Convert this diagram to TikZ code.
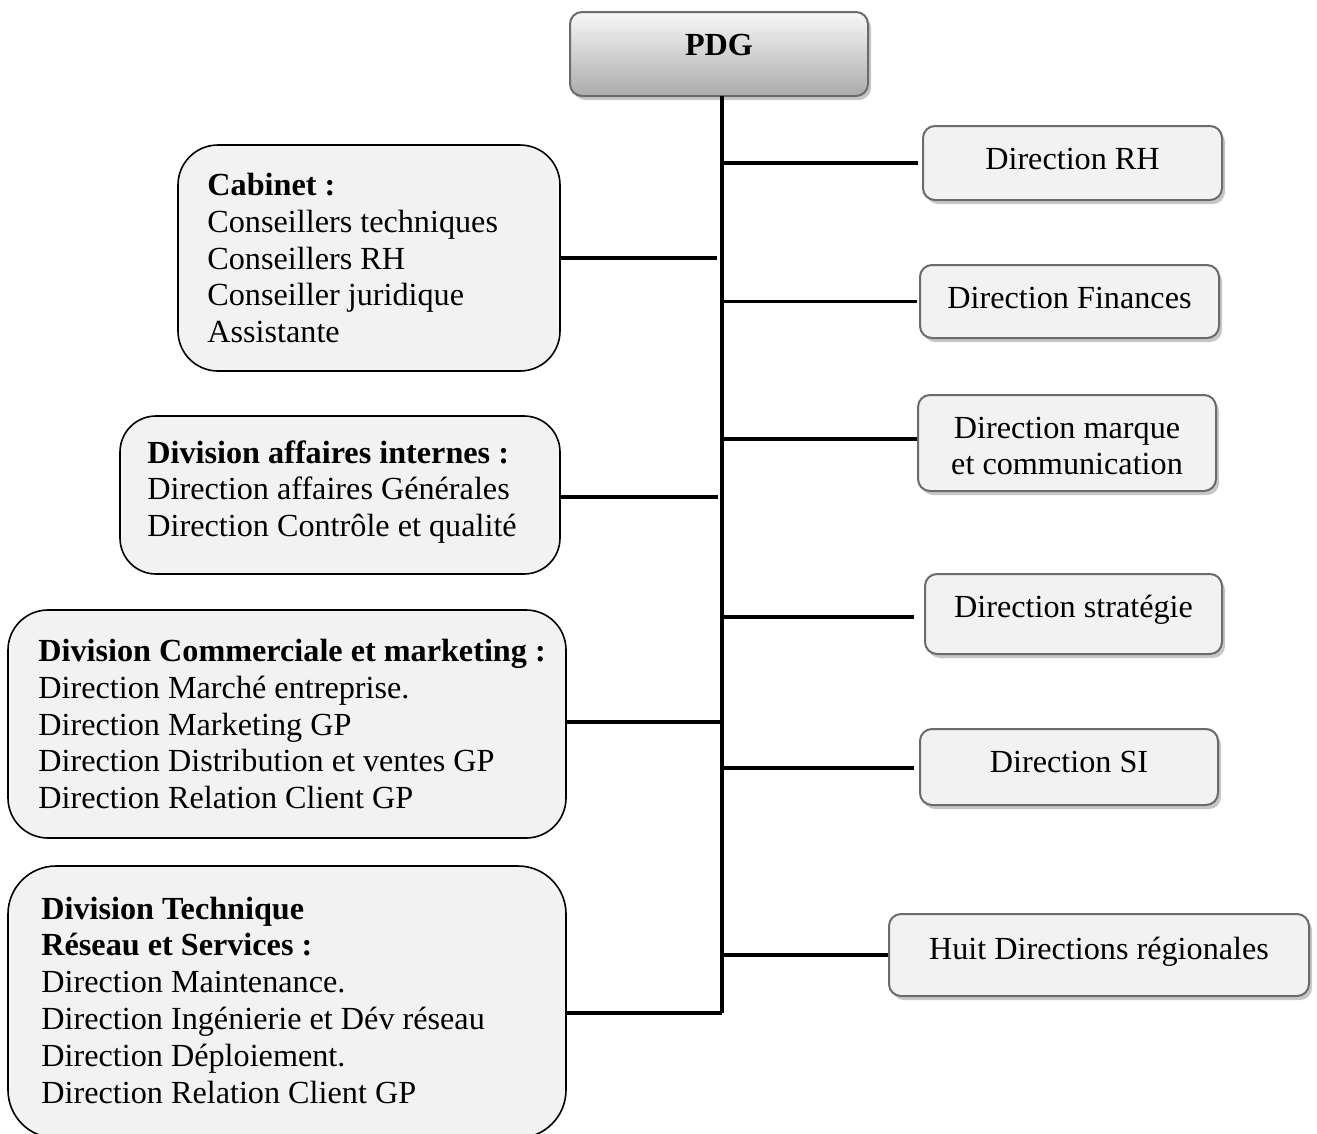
\documentclass[tikz,border=0pt]{standalone}
\usepackage{fontspec}
\setmainfont{Liberation Serif}
\usetikzlibrary{shadows}
\begin{document}
\begin{tikzpicture}[x=1pt,y=-1pt,
  every node/.style={font=\fontsize{32.2}{36.8}\selectfont},
  boxshadow/.style={drop shadow={shadow xshift=3, shadow yshift=4, fill=black!40, opacity=0.55}},
  unitbox/.style={draw=black!58, line width=2, fill=black!5, rounded corners=12,
    boxshadow, inner sep=0},
  unittext/.style={align=center, inner sep=0},
  divbox/.style={draw=black, line width=1.6, fill=black!5, inner sep=0},
  divtext/.style={anchor=west, align=left, inner sep=0},
  link/.style={line width=3.4, black},
  trunkline/.style={line width=4, black}]
\useasboundingbox (0,0) rectangle (1317,1133);
\clip (0,0) rectangle (1317,1133);

% head of the organisation
\node[draw=black!58, line width=2, rounded corners=12,
  top color=black!3, bottom color=black!33, boxshadow,
  minimum width=298, minimum height=84, inner sep=0]
  (pdg) at (719,54) {};
\node[inner sep=0] (pdgt) at (719,45) {\textbf{PDG}};

% trunk
\coordinate (top) at (722,96);
\coordinate (bot) at (722,1013);
\draw[trunkline] (top) -- (bot);

% directions attached on the right
\node[unitbox, minimum width=299, minimum height=74] (rh) at (1072.5,163) {};
\node[unittext] (rht) at ([yshift=4]rh.center) {Direction RH};
\node[unitbox, minimum width=299, minimum height=73] (fin) at (1069.5,301.5) {};
\node[unittext] (fint) at ([yshift=4]fin.center) {Direction Finances};
\node[unitbox, minimum width=298, minimum height=96] (mkt) at (1067,443) {};
\node[unittext] (mktt) at ([yshift=-3]mkt.center) {Direction marque\\[-1pt]et communication};
\node[unitbox, minimum width=297, minimum height=80] (strat) at (1073.5,614) {};
\node[unittext] (stratt) at ([yshift=4]strat.center) {Direction stratégie};
\node[unitbox, minimum width=298, minimum height=76] (si) at (1069,767) {};
\node[unittext] (sit) at ([yshift=5]si.center) {Direction SI};
\node[unitbox, minimum width=420, minimum height=82] (reg) at (1099,955) {};
\node[unittext] (regt) at ([yshift=3]reg.center) {Huit Directions régionales};

% divisions attached on the left
\node[divbox, rounded corners=40, minimum width=382, minimum height=226] (cab) at (369,258) {};
\node[divtext] (cabt) at ([xshift=30]cab.west)
  {\textbf{Cabinet :}\\Conseillers techniques\\Conseillers RH\\Conseiller juridique\\Assistante};

\node[divbox, rounded corners=36, minimum width=440, minimum height=158] (dai) at (340,495) {};
\node[divtext] (dait) at ([xshift=28,yshift=3]dai.west)
  {\textbf{Division affaires internes :}\\Direction affaires Générales\\Direction Contrôle et qualité};

\node[divbox, rounded corners=40, minimum width=558, minimum height=228] (dcm) at (287,724) {};
\node[divtext] (dcmt) at ([xshift=31]dcm.west)
  {\textbf{Division Commerciale et marketing :}\\Direction Marché entreprise.\\Direction Marketing GP\\Direction Distribution et ventes GP\\Direction Relation Client GP};

\node[divbox, rounded corners=48, minimum width=558, minimum height=272] (dtr) at (287,1002) {};
\node[divtext] (dtrt) at ([xshift=34,yshift=2]dtr.west)
  {\textbf{Division Technique}\\\textbf{Réseau et Services :}\\Direction Maintenance.\\Direction Ingénierie et Dév réseau\\Direction Déploiement.\\Direction Relation Client GP};

% links to the trunk
\draw[link] (rh.west -| top) -- ([xshift=-4]rh.west);
\draw[link] (fin.west -| top) -- ([xshift=-2]fin.west);
\draw[link] ([yshift=4]mkt.west -| top) -- ([yshift=4]mkt.west);
\draw[link] ([yshift=-3]strat.west -| top) -- ([xshift=-10,yshift=-3]strat.west);
\draw[link] ([yshift=-1]si.west -| top) -- ([xshift=-5,yshift=-1]si.west);
\draw[link] (reg.west -| top) -- (reg.west);
\draw[link] (cab.east) -- ([xshift=-5]cab.east -| top);
\draw[link] ([yshift=-2]dai.east) -- ([xshift=-4,yshift=-2]dai.east -| top);
\draw[link] ([yshift=2]dcm.east) -- ([yshift=2]dcm.east -| top);
\draw[link] ([yshift=-11]dtr.east) -- ([yshift=-11]dtr.east -| bot);
\end{tikzpicture}
\end{document}
